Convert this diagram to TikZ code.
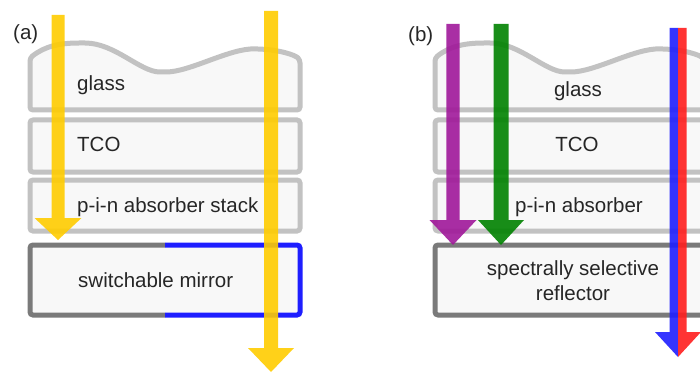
\documentclass[tikz,border=0pt]{standalone}
\usepackage{fontspec}
\setmainfont{Liberation Sans}
\usetikzlibrary{positioning}

\definecolor{sun}{HTML}{FFCC00}
\definecolor{uv}{HTML}{A0189A}
\definecolor{vis}{HTML}{008200}
\definecolor{ir1}{HTML}{1E1EFF}
\definecolor{ir2}{HTML}{FF1E1E}
\definecolor{layergray}{HTML}{C2C2C2}
\definecolor{mirrorgray}{HTML}{7A7A7A}
\definecolor{layerfill}{HTML}{F8F8F8}

% light beam: colour, x, top, tip, half shaft, half head, head length
\newcommand\beam[7]{%
  \fill[#1] (#2-#5,#3) -- (#2+#5,#3) -- (#2+#5,#4-#7) -- (#2+#6,#4-#7)
    -- (#2,#4) -- (#2-#6,#4-#7) -- (#2-#5,#4-#7) -- cycle;}
% one half of a beam, side = -1 (left) or 1 (right)
\newcommand\halfbeam[8]{%
  \fill[#1] (#2,#3) -- ({#2+#8*#5},#3) -- ({#2+#8*#5},{#4-#7})
    -- ({#2+#8*#6},{#4-#7}) -- (#2,#4) -- cycle;}

\begin{document}
\begin{tikzpicture}[x=1pt, y=-1pt,
    layer/.style = {draw=layergray, line width=5pt, fill=layerfill, rounded corners=3pt},
    mirror/.style = {line width=5pt, rounded corners=3pt},
    txt/.style = {font=\fontsize{20.5}{25}\selectfont, text=black!85, inner sep=0pt},
    ray/.style = {fill=#1, fill opacity=0.9}]
\useasboundingbox (0,0) rectangle (700,374);

% ---- (a) switchable mirror ----
\node[txt, anchor=base west] (a) at (13,40) {(a)};
\draw[layer] (30,110) -- (30,58) .. controls (45,46) and (60,43) .. (82,43)
  .. controls (115,43) and (140,72) .. (163,72)
  .. controls (190,72) and (230,48) .. (258,49)
  .. controls (280,50) and (295,55) .. (300,60) -- (300,110) -- cycle;
\draw[layer] (30,120) rectangle (300,172);
\draw[layer] (30,180) rectangle (300,231);
\fill[layerfill] (30,245) rectangle (300,315);
\draw[mirror, mirrorgray] (165,245) -- (30,245) -- (30,315) -- (165,315);
\draw[mirror, ir1] (165,245) -- (300,245) -- (300,315) -- (165,315);

\node[txt, anchor=base west] (glassA) at (77,91) {glass};
\node[txt, anchor=base west] (tcoA) at (77,152) {TCO};
\node[txt, anchor=base west] (pinA) at (77,212) {p-i-n absorber stack};
\node[txt, anchor=base west] (mirA) at (78,287) {switchable mirror};

\beam{ray=sun}{58}{15}{240}{6.5}{23.5}{22}
\beam{ray=sun}{271}{11}{372}{7}{23}{24}

% ---- (b) spectrally selective reflector ----
\begin{scope}[xshift=405pt]
\draw[layer] (30,110) -- (30,58) .. controls (45,46) and (60,43) .. (82,43)
  .. controls (115,43) and (140,72) .. (163,72)
  .. controls (190,72) and (230,48) .. (258,49)
  .. controls (280,50) and (295,55) .. (300,60) -- (300,110) -- cycle;
\draw[layer] (30,120) rectangle (300,172);
\draw[layer] (30,180) rectangle (300,231);
\draw[mirror, draw=mirrorgray, fill=layerfill] (30,245) rectangle (300,315);
\end{scope}

\node[txt, anchor=base west] (b) at (408,42) {(b)};
\node[txt, anchor=base] (glassB) at (578,97) {glass};
\node[txt, anchor=base] (tcoB) at (577,152) {TCO};
\node[txt, anchor=base] (pinB) at (579,212) {p-i-n absorber};
\node[txt, anchor=base, align=center] (refB) at (573,300)
  {spectrally selective\\reflector};

\beam{ray=uv}{453}{24}{245}{6.7}{23.5}{25}
\beam{ray=vis}{501}{24}{245}{7.5}{23}{25}
\halfbeam{ray=ir1}{678}{28}{357}{8.5}{23}{25}{-1}
\halfbeam{ray=ir2}{678}{28}{357}{8.5}{23}{25}{1}
\end{tikzpicture}
\end{document}
